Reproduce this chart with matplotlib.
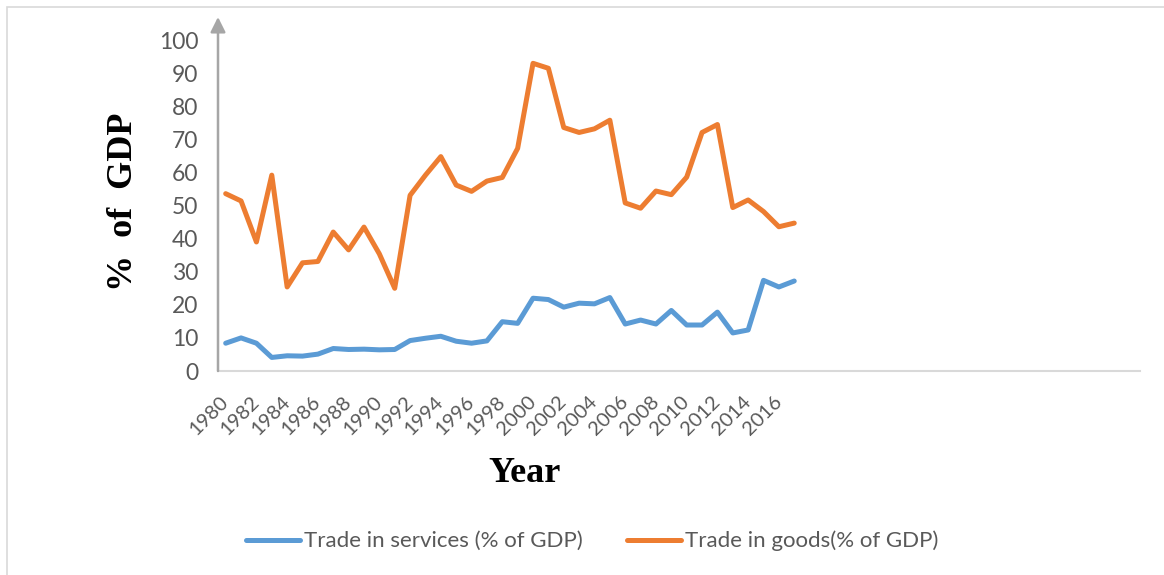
import matplotlib
matplotlib.use("Agg")
import matplotlib.pyplot as plt
from matplotlib.patches import Rectangle

years = list(range(1980, 2018))
services = [8.4, 10.0, 8.4, 4.1, 4.6, 4.5, 5.1, 6.8, 6.5, 6.6,
            6.4, 6.5, 9.2, 9.9, 10.5, 9.0, 8.4, 9.1, 14.9, 14.4,
            22.0, 21.6, 19.3, 20.5, 20.3, 22.2, 14.2, 15.4, 14.2, 18.3,
            13.9, 13.9, 17.8, 11.5, 12.4, 27.4, 25.4, 27.2]
goods = [53.6, 51.4, 39.0, 59.2, 25.4, 32.7, 33.1, 42.0, 36.6, 43.5,
         35.4, 25.0, 53.1, 59.2, 64.8, 56.2, 54.3, 57.4, 58.5, 67.3,
         93.0, 91.5, 73.6, 72.1, 73.2, 75.8, 50.8, 49.2, 54.4, 53.3,
         58.6, 72.1, 74.5, 49.4, 51.7, 48.2, 43.6, 44.7]
n_categories = 60
yticks = list(range(0, 101, 10))

W, H = 1164, 575
fig = plt.figure(figsize=(W / 100, H / 100), dpi=100)
fig.patch.set_facecolor("white")

# outer chart border
fig.patches.append(Rectangle((7 / W, -0.1), 1.2, 1 - 7 / H + 0.1,
                             transform=fig.transFigure, fill=False,
                             edgecolor="#D9D9D9", linewidth=1.2))

ax = fig.add_axes([218 / W, 1 - 371 / H, (1140 - 218) / W, (371 - 17) / H])
x = list(range(len(years)))
ax.plot(x, services, color="#5B9BD5", lw=3.6, solid_capstyle="round",
        solid_joinstyle="round", label="Trade in services (% of GDP)")
ax.plot(x, goods, color="#ED7D31", lw=3.6, solid_capstyle="round",
        solid_joinstyle="round", label="Trade in goods(% of GDP)")

ax.set_xlim(-0.5, n_categories - 0.5)
ax.set_ylim(0, 107)
ax.set_yticks(yticks)
ax.set_yticklabels([str(v) for v in yticks], fontfamily="Lato",
                   fontsize=16.5, color="#595959")
ax.set_xticks(x[::2])
ax.set_xticklabels([str(y) for y in years[::2]], fontfamily="Lato",
                   fontsize=14.5, color="#595959", rotation=45,
                   ha="right", va="center", rotation_mode="anchor")
ax.tick_params(axis="y", length=0, pad=14)
ax.tick_params(axis="x", length=0, pad=20)

for s in ["top", "right", "left"]:
    ax.spines[s].set_visible(False)
ax.spines["bottom"].set_color("#D9D9D9")
ax.spines["bottom"].set_linewidth(1.5)

# y axis with arrow
ax.annotate("", xy=(0, 1.0), xycoords="axes fraction",
            xytext=(0, 0), textcoords="axes fraction",
            arrowprops=dict(arrowstyle="-|>,head_length=0.9,head_width=0.45",
                            color="#A6A6A6", lw=1.8, shrinkA=0, shrinkB=0))

fig.text(123 / W, 1 - 202 / H, "%  of  GDP", rotation=90, ha="center",
         va="center", fontfamily="Liberation Serif", fontweight="bold",
         fontsize=26, color="black")
fig.text(525 / W, 1 - 473 / H, "Year", ha="center", va="center",
         fontfamily="Liberation Serif", fontweight="bold", fontsize=26,
         color="black")

leg = ax.legend(loc="center", bbox_to_anchor=(592 / W, 1 - 541 / H),
                bbox_transform=fig.transFigure, ncol=2, frameon=False,
                prop={"family": "Lato", "size": 16}, handlelength=2.45,
                handletextpad=0.15, columnspacing=2.0)
for t in leg.get_texts():
    t.set_color("#595959")

fig.savefig("out.png", dpi=100)
